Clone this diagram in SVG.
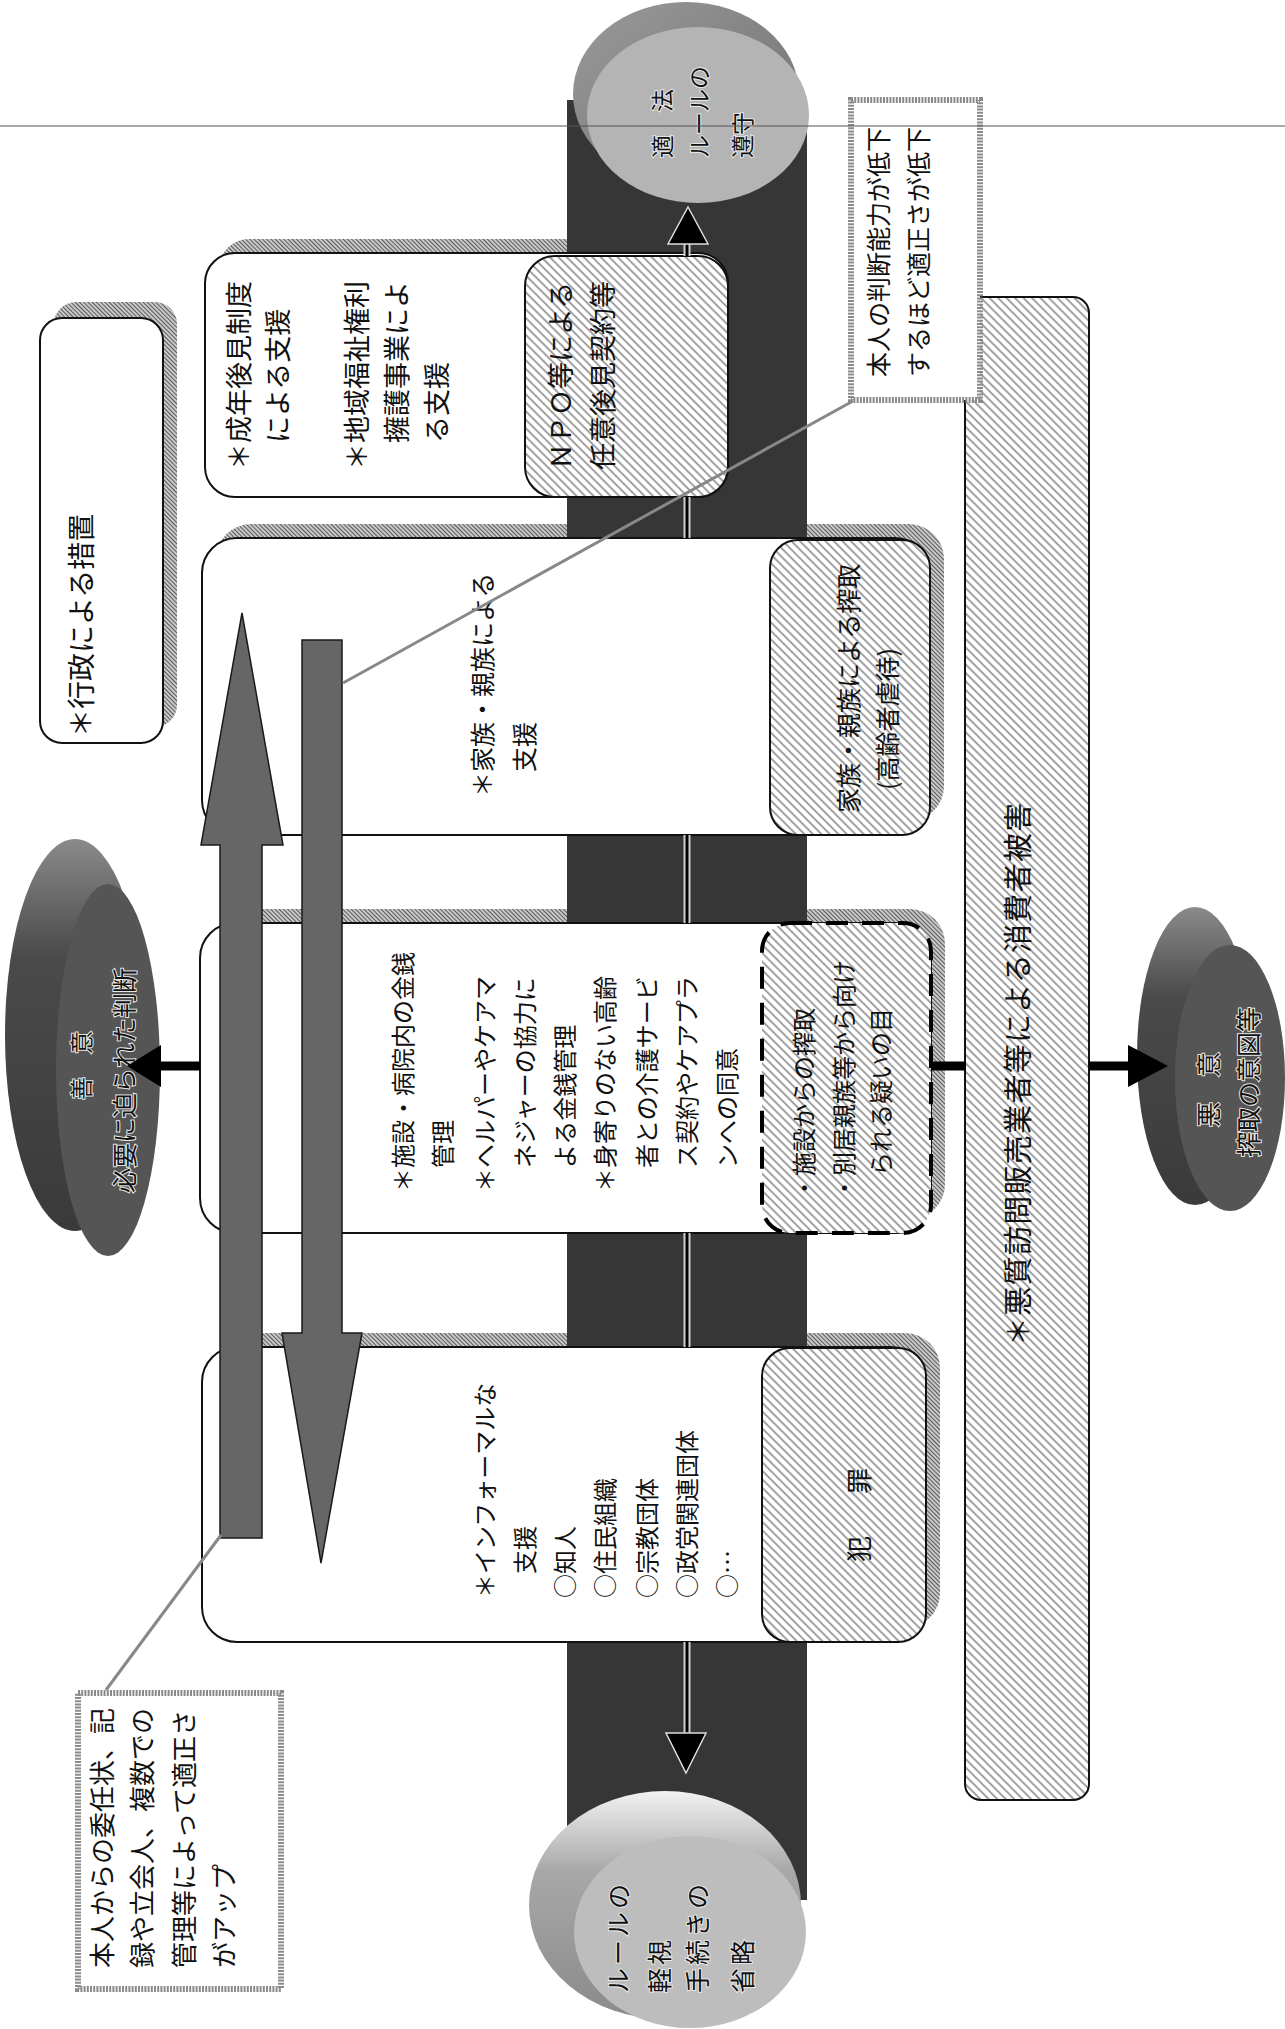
<svg xmlns="http://www.w3.org/2000/svg" width="1285" height="2029" viewBox="0 0 1285 2029">
<defs>
<pattern id="hatch" width="6" height="6" patternUnits="userSpaceOnUse" patternTransform="rotate(-45)">
<rect width="6" height="6" fill="#fff"/>
<line x1="3" y1="0" x2="3" y2="6" stroke="#7a7a7a" stroke-width="1.4"/>
</pattern>
<pattern id="shade" width="3" height="3" patternUnits="userSpaceOnUse" patternTransform="rotate(-45)">
<rect width="3" height="3" fill="#c8c8c8"/>
<line x1="1.5" y1="0" x2="1.5" y2="3" stroke="#5a5a5a" stroke-width="1"/>
</pattern>
<linearGradient id="gBot" x1="0" y1="0" x2="0" y2="1">
<stop offset="0" stop-color="#f2f2f2"/><stop offset="0.35" stop-color="#a8a8a8"/><stop offset="1" stop-color="#8a8a8a"/>
</linearGradient>
<linearGradient id="gTop" x1="0" y1="0" x2="1" y2="1">
<stop offset="0" stop-color="#9a9a9a"/><stop offset="1" stop-color="#6e6e6e"/>
</linearGradient>
<linearGradient id="gDisc" x1="0" y1="0" x2="0" y2="1">
<stop offset="0" stop-color="#8a8a8a"/><stop offset="0.3" stop-color="#4a4a4a"/><stop offset="1" stop-color="#3a3a3a"/>
</linearGradient>
<style>
.t{font-family:"Noto Sans CJK JP","Noto Sans CJK SC",sans-serif;fill:#111;dominant-baseline:central}
.dt{font-family:"Noto Sans CJK JP","Noto Sans CJK SC",sans-serif;fill:#111;stroke:#e8e8e8;stroke-width:2;paint-order:stroke;dominant-baseline:central}
.box{fill:#fff;stroke:#111;stroke-width:2}
.hb{fill:url(#hatch);stroke:#111;stroke-width:2}
.sh{fill:url(#shade)}
.note{fill:#fff;stroke:#8a8a8a;stroke-width:6;stroke-dasharray:2 1.2}
.arr{fill:#666;stroke:#1a1a1a;stroke-width:1.5}
.cl{stroke:#000;stroke-width:3}
.clw{stroke:#cfcfcf;stroke-width:7}
.hd{fill:#000;stroke:#ddd;stroke-width:1.5}
.ld{stroke:#888;stroke-width:3}
.f23{font-size:23px}.f24{font-size:24px}.f25{font-size:25px}.f26{font-size:26px}.f27{font-size:27px}.f28{font-size:28px}
</style>
</defs>

<g id="shadows">
<rect class="sh" x="54" y="302" width="123" height="425" rx="22"/>
<rect class="sh" x="219" y="239" width="523" height="244" rx="30"/>
<rect class="sh" x="216" y="524" width="728" height="297" rx="35"/>
<rect class="sh" x="214" y="909" width="731" height="310" rx="35"/>
<rect class="sh" x="216" y="1333" width="724" height="295" rx="35"/>
</g>

<g id="band"><rect x="567" y="100" width="240" height="1800" fill="#363636"/></g>

<g id="cyl-top">
<ellipse cx="686" cy="94" rx="113" ry="92" fill="url(#gTop)"/>
<ellipse cx="698" cy="115" rx="111" ry="88" fill="#b4b4b4"/>
<text class="dt f23" transform="translate(661 158) rotate(-90)">適　法</text>
<text class="dt f23" transform="translate(698 158) rotate(-90)">ルールの</text>
<text class="dt f23" transform="translate(741 158) rotate(-90)">遵守</text>
</g>

<g id="cyl-bottom">
<ellipse cx="665" cy="1905" rx="136" ry="114" fill="url(#gBot)"/>
<ellipse cx="690" cy="1932" rx="116" ry="96" fill="#bdbdbd"/>
<text class="dt f25" letter-spacing="3" transform="translate(617 1993) rotate(-90)">ルールの</text>
<text class="dt f25" letter-spacing="3" transform="translate(658 1993) rotate(-90)">軽視</text>
<text class="dt f25" letter-spacing="3" transform="translate(696 1993) rotate(-90)">手続きの</text>
<text class="dt f25" letter-spacing="3" transform="translate(741 1993) rotate(-90)">省略</text>
</g>

<g id="disc-left">
<ellipse cx="75" cy="1035" rx="70" ry="196" fill="url(#gDisc)"/>
<ellipse cx="108" cy="1070" rx="52" ry="186" fill="#555"/>
<text class="dt f23" transform="translate(80 1100) rotate(-90)">善　意</text>
<text class="dt f25" transform="translate(123 1193) rotate(-90)">必要に迫られた判断</text>
</g>

<g id="disc-right">
<ellipse cx="1195" cy="1056" rx="58" ry="149" fill="url(#gDisc)"/>
<ellipse cx="1230" cy="1078" rx="55" ry="133" fill="#555"/>
<text class="dt f25" transform="translate(1207 1127) rotate(-90)">悪　意</text>
<text class="dt f25" transform="translate(1247 1157) rotate(-90)">搾取の意図等</text>
</g>

<g id="box-gyosei">
<rect class="box" x="40" y="318" width="123" height="425" rx="22"/>
<text class="t f28" transform="translate(80 737) rotate(-90)">＊行政による措置</text>
</g>

<g id="box-seinen">
<rect class="box" x="205" y="253" width="523" height="244" rx="30"/>
<text class="t f27" transform="translate(237 470) rotate(-90)">＊成年後見制度</text>
<text class="t f27" transform="translate(276 443) rotate(-90)">による支援</text>
<text class="t f27" transform="translate(355 470) rotate(-90)">＊地域福祉権利</text>
<text class="t f27" transform="translate(395 443) rotate(-90)">擁護事業によ</text>
<text class="t f27" transform="translate(435 443) rotate(-90)">る支援</text>
<rect class="hb" x="525" y="256" width="203" height="241" rx="30"/>
<text class="t f27" transform="translate(559 470) rotate(-90)">ＮＰＯ等による</text>
<text class="t f27" transform="translate(601 470) rotate(-90)">任意後見契約等</text>
</g>

<g id="box-kazoku">
<rect class="box" x="202" y="538" width="728" height="297" rx="35"/>
<text class="t f25" transform="translate(481 797) rotate(-90)">＊家族・親族による</text>
<text class="t f25" transform="translate(523 772) rotate(-90)">支援</text>
<rect class="hb" x="770" y="540" width="160" height="295" rx="28"/>
<text class="t f25" transform="translate(847 813) rotate(-90)">家族・親族による搾取</text>
<text class="t f25" transform="translate(886 790) rotate(-90)">(高齢者虐待)</text>
</g>

<g id="box-shisetsu">
<rect class="box" x="200" y="923" width="731" height="310" rx="35"/>
<text class="t f24" transform="translate(401 1192) rotate(-90)">＊施設・病院内の金銭</text>
<text class="t f24" transform="translate(441 1168) rotate(-90)">管理</text>
<text class="t f24" transform="translate(483 1192) rotate(-90)">＊ヘルパーやケアマ</text>
<text class="t f24" transform="translate(523 1168) rotate(-90)">ネジャーの協力に</text>
<text class="t f24" transform="translate(563 1168) rotate(-90)">よる金銭管理</text>
<text class="t f24" transform="translate(603 1192) rotate(-90)">＊身寄りのない高齢</text>
<text class="t f24" transform="translate(645 1168) rotate(-90)">者との介護サービ</text>
<text class="t f24" transform="translate(685 1168) rotate(-90)">ス契約やケアプラ</text>
<text class="t f24" transform="translate(725 1168) rotate(-90)">ンへの同意</text>
<rect x="762" y="923" width="169" height="310" rx="28" fill="url(#hatch)" stroke="#000" stroke-width="4" stroke-dasharray="22 14"/>
<text class="t f24" transform="translate(802 1200) rotate(-90)">・施設からの搾取</text>
<text class="t f24" transform="translate(842 1200) rotate(-90)">・別居親族等から向け</text>
<text class="t f24" transform="translate(879 1176) rotate(-90)">られる疑いの目</text>
</g>

<g id="box-informal">
<rect class="box" x="202" y="1347" width="724" height="295" rx="35"/>
<text class="t f24" transform="translate(483 1598) rotate(-90)">＊インフォーマルな</text>
<text class="t f24" transform="translate(523 1574) rotate(-90)">支援</text>
<text class="t f24" transform="translate(563 1598) rotate(-90)">○知人</text>
<text class="t f24" transform="translate(603 1598) rotate(-90)">○住民組織</text>
<text class="t f24" transform="translate(645 1598) rotate(-90)">○宗教団体</text>
<text class="t f24" transform="translate(685 1598) rotate(-90)">○政党関連団体</text>
<text class="t f24" transform="translate(725 1598) rotate(-90)">○…</text>
<rect class="hb" x="762" y="1348" width="164" height="294" rx="28"/>
<text class="t f26" letter-spacing="8" transform="translate(857 1562) rotate(-90)">犯　罪</text>
</g>

<g id="bar-akushitsu">
<rect class="hb" x="965" y="297" width="124" height="1503" rx="16"/>
<text class="t" style="font-size:29px" letter-spacing="1.3" transform="translate(1016 1346) rotate(-90)">＊悪質訪問販売業者等による消費者被害</text>
</g>

<g id="note-handan">
<rect class="note" x="851" y="100" width="129" height="300"/>
<text class="t f25" transform="translate(877 377) rotate(-90)">本人の判断能力が低下</text>
<text class="t f25" transform="translate(917 377) rotate(-90)">するほど適正さが低下</text>
</g>

<g id="note-ininjo">
<rect class="note" x="78" y="1693" width="203" height="296"/>
<text class="t f26" transform="translate(100 1968) rotate(-90)">本人からの委任状、記</text>
<text class="t f26" transform="translate(140 1968) rotate(-90)">録や立会人、複数での</text>
<text class="t f26" transform="translate(182 1968) rotate(-90)">管理等によって適正さ</text>
<text class="t f26" transform="translate(222 1968) rotate(-90)">がアップ</text>
</g>

<g id="arrow-up"><polygon class="arr" points="220,1538 262,1538 262,845 283,845 242,613 201,845 220,845"/></g>
<g id="arrow-down"><polygon class="arr" points="302,640 342,640 342,1333 362,1333 321,1563 282,1333 302,1333"/></g>

<g id="connectors">
<g class="clw">
<line x1="687" y1="244" x2="687" y2="256"/><line x1="687" y1="497" x2="687" y2="538"/><line x1="687" y1="835" x2="687" y2="923"/><line x1="687" y1="1233" x2="687" y2="1347"/><line x1="687" y1="1642" x2="687" y2="1734"/>
</g>
<g class="cl">
<line x1="687" y1="243" x2="687" y2="256"/><line x1="687" y1="497" x2="687" y2="538"/><line x1="687" y1="835" x2="687" y2="923"/><line x1="687" y1="1233" x2="687" y2="1347"/><line x1="687" y1="1642" x2="687" y2="1735"/>
</g>
<polygon class="hd" points="688,207 708,244 668,244"/>
<polygon class="hd" points="686,1773 706,1733 666,1733"/>
<line x1="200" y1="1066" x2="158" y2="1066" stroke="#000" stroke-width="9"/>
<polygon points="127,1066 161,1045 161,1087" fill="#000"/>
<line x1="931" y1="1066" x2="966" y2="1066" stroke="#000" stroke-width="9"/>
<line x1="1089" y1="1066" x2="1131" y2="1066" stroke="#000" stroke-width="9"/>
<polygon points="1168,1066 1128,1045 1128,1087" fill="#000"/>
<line class="ld" x1="853" y1="401" x2="343" y2="683"/>
<line class="ld" x1="106" y1="1690" x2="221" y2="1535"/>
</g>

<g id="fold-line"><line x1="0" y1="126" x2="1285" y2="126" stroke="#555" stroke-width="1"/></g>
</svg>
